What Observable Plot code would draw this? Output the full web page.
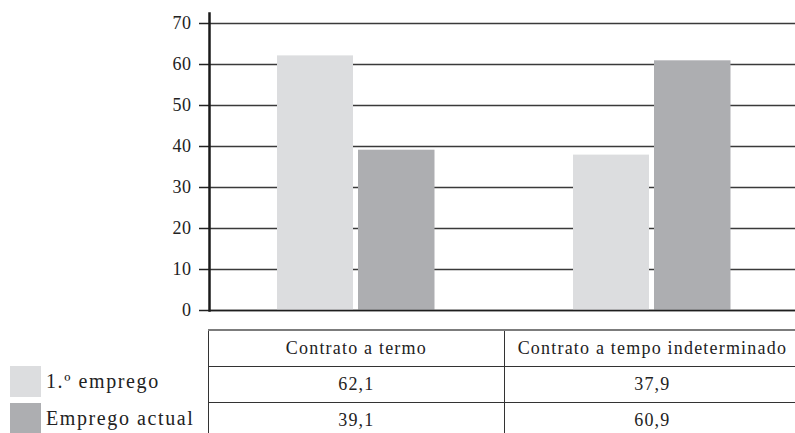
<!DOCTYPE html>
<html>
<head>
<meta charset="utf-8">
<script src="https://cdn.jsdelivr.net/npm/d3@7"></script>
<script src="https://cdn.jsdelivr.net/npm/@observablehq/plot@0.6"></script>
<style>
  html, body { margin: 0; padding: 0; background: #fff; overflow: hidden; }
  #wrap { position: relative; width: 795px; height: 433px; font-family: "Liberation Serif", "Times New Roman", "DejaVu Serif", serif; color: #222; }
  #chart svg { display: block; }
  #bottom { position: absolute; left: 0; top: 329px; width: 795px; height: 104px; overflow: hidden; }
  #legend .item { position: absolute; left: 10px; height: 31px; display: flex; align-items: center; }
  #legend .sw { width: 31px; height: 31px; margin-right: 5px; }
  #legend .lab { font-size: 20px; line-height: 31px; letter-spacing: 1.6px; }
  table { position: absolute; left: 208px; top: 0; width: 592px; border-collapse: collapse; table-layout: fixed; font-family: inherit; }
  td, th { height: 35px; padding: 0; text-align: center; font-weight: normal; font-size: 18px; letter-spacing: 1.2px; border: 1.5px solid #333; font-family: inherit; }
  thead th { border-top: 2px solid #7c7c7c; }
  tr > :last-child { border-right: none; }
</style>
</head>
<body>
<div id="wrap">
  <div id="chart"></div>
  <div id="bottom">
    <div id="legend"></div>
    <table id="tbl"></table>
  </div>
</div>
<script>
// Categories, series and values
const categories = ["Contrato a termo", "Contrato a tempo indeterminado"];
const seriesNames = ["1.º emprego", "Emprego actual"];
const primeiroEmprego = [62.1, 37.9];
const empregoActual = [39.1, 60.9];
const yTicks = [0, 10, 20, 30, 40, 50, 60, 70];
const seriesColors = ["#dcdddf", "#adaeb1"];

const serifStack = "'Liberation Serif', 'Times New Roman', 'DejaVu Serif', serif";

const rowsFirst = categories.map((c, i) => ({category: c, value: primeiroEmprego[i]}));
const rowsCurrent = categories.map((c, i) => ({category: c, value: empregoActual[i]}));

const chart = Plot.plot({
  width: 795,
  height: 320,
  marginLeft: 209,
  marginRight: 0,
  marginTop: 13,
  marginBottom: 10,
  style: {fontFamily: serifStack, fontSize: "18px", color: "#222", background: "transparent", letterSpacing: "0.5px"},
  x: {domain: categories, range: [208, 801], padding: 0, axis: null},
  y: {domain: [0, 70], range: [310, 23], axis: null},
  marks: [
    Plot.ruleY(yTicks, {stroke: "#3a3a3a", strokeWidth: 1.5}),
    Plot.barY(rowsFirst, {x: "category", y: "value", fill: seriesColors[0], insetLeft: 68, insetRight: 152}),
    Plot.barY(rowsCurrent, {x: "category", y: "value", fill: seriesColors[1], insetLeft: 149, insetRight: 70.5}),
    Plot.ruleY([0], {stroke: "#1e1e1e", strokeWidth: 1.5}),
    Plot.axisY({ticks: yTicks, tickSize: 10, tickPadding: 8, stroke: "#222", strokeWidth: 1.5, fill: "#222", label: null, fontSize: 18, fontFamily: serifStack}),
    Plot.frame({anchor: "left", stroke: "#1a1a1a", strokeWidth: 2.5})
  ]
});
document.getElementById("chart").appendChild(chart);

// Data table under the bars
const fmt = v => v.toFixed(1).replace(".", ",");
const tbl = document.getElementById("tbl");
const head = document.createElement("thead");
const hr = document.createElement("tr");
categories.forEach(c => { const th = document.createElement("th"); th.textContent = c; hr.appendChild(th); });
head.appendChild(hr);
tbl.appendChild(head);
const body = document.createElement("tbody");
[primeiroEmprego, empregoActual].forEach(vals => {
  const tr = document.createElement("tr");
  vals.forEach(v => { const td = document.createElement("td"); td.textContent = fmt(v); tr.appendChild(td); });
  body.appendChild(tr);
});
tbl.appendChild(body);

// Legend beside the table rows
const legend = document.getElementById("legend");
seriesNames.forEach((name, i) => {
  const item = document.createElement("div");
  item.className = "item";
  item.style.top = (37 + i * 37) + "px";
  const sw = document.createElement("div");
  sw.className = "sw";
  sw.style.background = seriesColors[i];
  const lab = document.createElement("span");
  lab.className = "lab";
  lab.textContent = name;
  item.appendChild(sw);
  item.appendChild(lab);
  legend.appendChild(item);
});
</script>
</body>
</html>
